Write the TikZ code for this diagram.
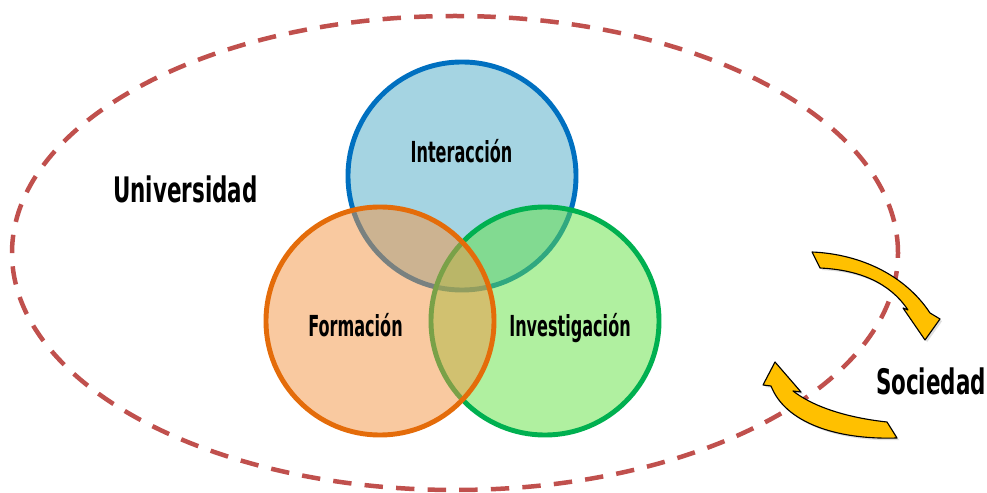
\documentclass[tikz,border=0pt]{standalone}
\usepackage{fontspec}
\newfontfamily\agencyfont[FakeStretch=0.61]{DejaVu Sans}
\newfontfamily\agencynarrow[FakeStretch=0.555]{DejaVu Sans}
\usetikzlibrary{arrows,shapes,positioning}
\usetikzlibrary{calc}
\usetikzlibrary{shadows}
\definecolor{ringred}{HTML}{C0504D}
\definecolor{inkblue}{HTML}{0070C0}
\definecolor{inkorange}{HTML}{E46C0A}
\definecolor{inkgreen}{HTML}{00B050}
\definecolor{paleblue}{HTML}{4BA9C5}
\definecolor{paleorange}{HTML}{F39341}
\definecolor{palegreen}{HTML}{61E141}
\definecolor{turnyellow}{HTML}{FFC000}
\begin{document}
\begin{tikzpicture}[x=0.025cm,y=0.025cm,
	venn/.style={circle,line width=3.5pt,minimum size=5.7cm,inner sep=0pt,fill opacity=0.5},
	big/.style={font=\agencyfont\bfseries\fontsize{25}{30}\selectfont,anchor=base,inner sep=0pt},
	small/.style={font=\agencynarrow\bfseries\fontsize{20.6}{24}\selectfont,anchor=base,inner sep=0pt},
	turn/.style={fill=turnyellow,draw=black,line width=0.8pt,line join=round,drop shadow={opacity=0.25,shadow xshift=1.5pt,shadow yshift=-1.5pt}}]
		\useasboundingbox (0,0) rectangle (987,493);
		\draw[ringred,line width=3.2pt,dash pattern=on 0.46cm off 0.33cm] (455,240) ellipse (443 and 237);
		\node[venn,draw=inkblue,fill=paleblue] (inter) at (462,317) {};
		\node[venn,draw=inkgreen,fill=palegreen] (inv) at (545,172) {};
		\node[venn,draw=inkorange,fill=paleorange] (form) at (380,172) {};
		\node[small] (interlbl) at ($(inter)+(-0.5,13)$) {Interacción};
		\node[small] (formlbl) at ($(form)+(-24.5,-16)$) {Formación};
		\node[small] (invlbl) at ($(inv)+(25,-16)$) {Investigación};
		\node[big] (uni) at (185.5,290) {Universidad};
		\node[big] (soc) at (931,98) {Sociedad};
		\path[turn] (812,241) .. controls (860,239) and (905,218) .. (930,180) -- (940,174) -- (925,153) -- (903,185) -- (908,183)
			.. controls (890,210) and (860,223) .. (820,225) -- cycle;
		\path[turn] (887,71) .. controls (850,75) and (815,85) .. (793,102) -- (801,101) -- (775,131) -- (763,108) -- (771,107)
			.. controls (785,71) and (835,53) .. (897,55) -- cycle;
	\end{tikzpicture}
\end{document}
